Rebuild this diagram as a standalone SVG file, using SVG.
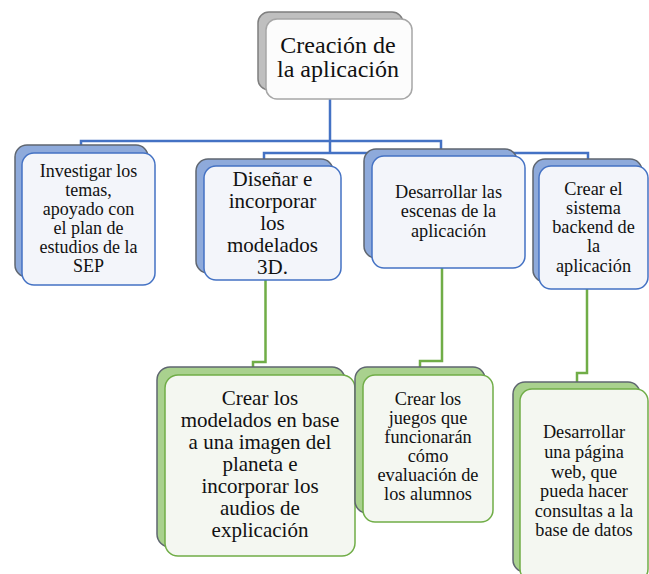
<svg xmlns="http://www.w3.org/2000/svg" width="649" height="574" viewBox="0 0 649 574">
<style>
text{font-family:'Liberation Serif','Times New Roman',serif;fill:#111;text-anchor:middle}
.bb{fill:#8eaadb;stroke:#5f6670;stroke-width:1.5}
.bf{fill:#f3f5fa;stroke:#4472c4;stroke-width:1.5}
.gb{fill:#a9d18e;stroke:#5f6670;stroke-width:1.5}
.gf{fill:#f4f7f1;stroke:#70ad47;stroke-width:1.5}
.cb{fill:none;stroke:#4472c4;stroke-width:2.5}
.cg{fill:none;stroke:#70ad47;stroke-width:2.5}
</style>
<rect width="649" height="574" fill="#ffffff"/>
<g id="connectors">
<path class="cb" d="M330,99 V153"/>
<path class="cb" d="M81,146 V141 H441 V150"/>
<path class="cb" d="M264,160 V153 H588 V161"/>
<path class="cg" d="M265.5,280 V362 H253 V368"/>
<path class="cg" d="M442,268 V361 H420 V368"/>
<path class="cg" d="M587,289 V373 H577 V383"/>
</g>
<g id="n0">
<rect x="258" y="12" width="145" height="78" rx="11" fill="#bfbfbf" stroke="#7f7f7f" stroke-width="1.5"/>
<rect x="266" y="19" width="146" height="80" rx="11" fill="#fcfcfc" stroke="#a6a6a6" stroke-width="1.5"/>
<text font-size="24"><tspan x="338" y="53">Creación de</tspan><tspan x="338" y="77">la aplicación</tspan></text>
</g>
<g id="n1">
<rect class="bb" x="15" y="145" width="133" height="132" rx="12"/>
<rect class="bf" x="22" y="153" width="133" height="132" rx="12"/>
<text font-size="18"><tspan x="88.5" y="177">Investigar los</tspan><tspan x="88.5" y="196">temas,</tspan><tspan x="88.5" y="215">apoyado con</tspan><tspan x="88.5" y="234">el plan de</tspan><tspan x="88.5" y="253">estudios de la</tspan><tspan x="88.5" y="272">SEP</tspan></text>
</g>
<g id="n2">
<rect class="bb" x="196" y="159" width="137" height="114" rx="12"/>
<rect class="bf" x="204" y="166" width="137" height="114" rx="12"/>
<text font-size="21"><tspan x="272.5" y="186">Diseñar e</tspan><tspan x="272.5" y="208">incorporar</tspan><tspan x="272.5" y="230">los</tspan><tspan x="272.5" y="252">modelados</tspan><tspan x="272.5" y="274">3D.</tspan></text>
</g>
<g id="n3">
<rect class="bb" x="364" y="149" width="153" height="109" rx="12"/>
<rect class="bf" x="372" y="156" width="153" height="112" rx="12"/>
<text font-size="18.3"><tspan x="448.5" y="198">Desarrollar las</tspan><tspan x="448.5" y="217">escenas de la</tspan><tspan x="448.5" y="237">aplicación</tspan></text>
</g>
<g id="n4">
<rect class="bb" x="533" y="159" width="109" height="123" rx="12"/>
<rect class="bf" x="539" y="166" width="109" height="123" rx="12"/>
<text font-size="18.3"><tspan x="593.5" y="195">Crear el</tspan><tspan x="593.5" y="214">sistema</tspan><tspan x="593.5" y="233">backend de</tspan><tspan x="593.5" y="252">la</tspan><tspan x="593.5" y="272">aplicación</tspan></text>
</g>
<g id="n5">
<rect class="gb" x="157" y="367" width="188" height="180" rx="13"/>
<rect class="gf" x="165" y="375" width="190" height="181" rx="13"/>
<text font-size="21"><tspan x="260" y="405">Crear los</tspan><tspan x="260" y="427">modelados en base</tspan><tspan x="260" y="449">a una imagen del</tspan><tspan x="260" y="471">planeta e</tspan><tspan x="260" y="493">incorporar los</tspan><tspan x="260" y="515">audios de</tspan><tspan x="260" y="537">explicación</tspan></text>
</g>
<g id="n6">
<rect class="gb" x="355" y="367" width="130" height="146" rx="12"/>
<rect class="gf" x="363" y="375" width="130" height="147" rx="12"/>
<text font-size="18.3"><tspan x="428" y="405">Crear los</tspan><tspan x="428" y="424">juegos que</tspan><tspan x="428" y="443">funcionarán</tspan><tspan x="428" y="462">cómo</tspan><tspan x="428" y="481">evaluación de</tspan><tspan x="428" y="500">los alumnos</tspan></text>
</g>
<g id="n7">
<rect class="gb" x="513" y="382" width="127" height="190" rx="12"/>
<rect class="gf" x="520" y="389" width="128" height="192" rx="12"/>
<text font-size="18.3"><tspan x="584" y="438">Desarrollar</tspan><tspan x="584" y="458">una página</tspan><tspan x="584" y="478">web, que</tspan><tspan x="584" y="497">pueda hacer</tspan><tspan x="584" y="517">consultas a la</tspan><tspan x="584" y="536">base de datos</tspan></text>
</g>
</svg>
